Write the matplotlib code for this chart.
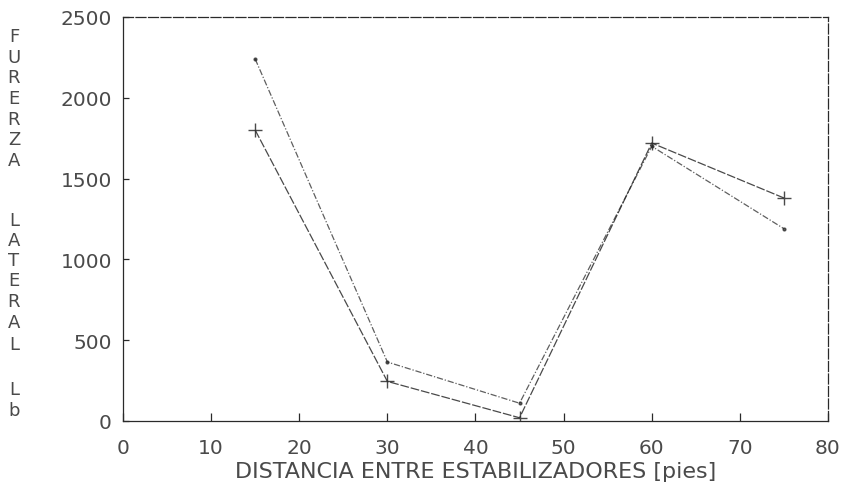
import matplotlib.pyplot as plt

# Datos
distancia = [15, 30, 45, 60, 75]
fuerza_a = [1800, 245, 20, 1720, 1380]   # serie con marcas "+"
fuerza_b = [2240, 365, 110, 1700, 1190]  # serie con puntos

x_ticks = [0, 10, 20, 30, 40, 50, 60, 70, 80]
y_ticks = [0, 500, 1000, 1500, 2000, 2500]

ylabel_letters = ["F", "U", "R", "E", "R", "Z", "A",
                  "L", "A", "T", "E", "R", "A", "L",
                  "L", "b"]
ylabel_rows = [37, 58, 78, 99, 120, 140, 161,
               221, 241, 261, 281, 302, 323, 345,
               390, 411]

ink = "#2a2a2a"
txt = "#4a4a4a"
plt.rcParams["font.family"] = ["DejaVu Sans"]

fig = plt.figure(figsize=(8.45, 4.89), dpi=100)
ax = fig.add_axes([123 / 845, 67 / 489, 705 / 845, 404 / 489])

ax.plot(distancia, fuerza_a, color=ink, lw=0.9, ls=(0, (7, 1.5)),
        marker="+", ms=10, mew=1.0, alpha=0.85)
ax.plot(distancia, fuerza_b, color=ink, lw=0.9, ls=(0, (5, 1.5, 1, 1.5)),
        marker=".", ms=4, alpha=0.75)

ax.set_xlim(0, 80)
ax.set_ylim(0, 2500)
ax.set_xticks(x_ticks)
ax.set_yticks(y_ticks)
ax.tick_params(axis="x", direction="in", length=6, width=0.9, color=ink,
               labelsize=14.5, labelcolor=txt, pad=12, top=False)
ax.tick_params(axis="y", direction="in", length=4, width=0.9, color=ink,
               labelsize=14.5, labelcolor=txt, pad=8, right=False)
for s in ax.spines.values():
    s.set_color(ink)
    s.set_linewidth(0.9)
for s in ("top", "right"):
    ax.spines[s].set_linestyle((0, (8, 2)))

ax.set_xlabel("DISTANCIA ENTRE ESTABILIZADORES [pies]", fontsize=16,
              color=txt)
ax.xaxis.set_label_coords(0.5, -(462 - 422) / 404)

for letra, yy in zip(ylabel_letters, ylabel_rows):
    fig.text(14 / 845, 1 - yy / 489, letra, ha="center", va="center",
             fontsize=13, color=txt)

fig.savefig("out.png", dpi=100)
